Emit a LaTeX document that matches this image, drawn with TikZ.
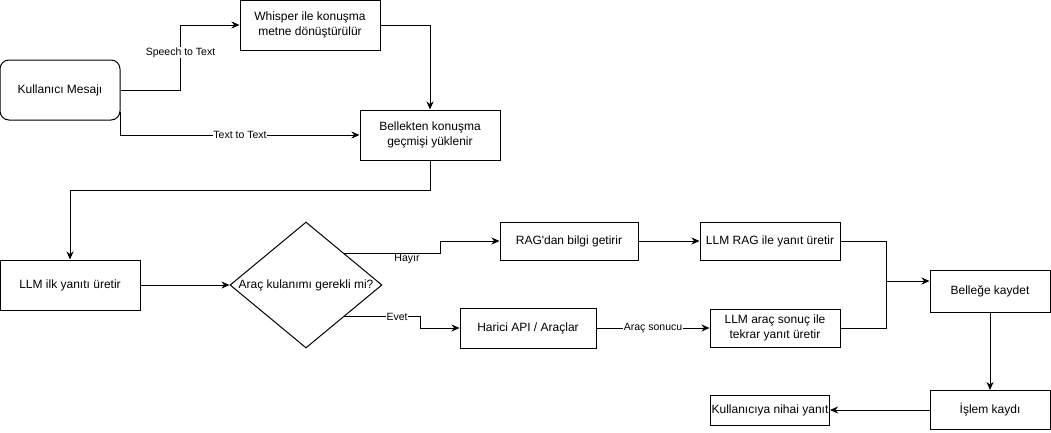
\documentclass[tikz,border=0pt]{standalone}
\usepackage{fontspec}
\setmainfont{Liberation Sans}
\usetikzlibrary{arrows.meta,shapes.geometric}

\tikzset{
  kutu/.style={draw=black, line width=1pt, inner sep=0pt, align=center, font=\fontsize{12}{14.5}\selectfont},
  karo/.style={draw=black, line width=1pt, diamond, inner sep=0pt, minimum width=152pt, minimum height=126pt, font=\fontsize{12}{14.5}\selectfont},
  ok/.style={line width=1pt, -{Stealth[length=8pt,width=7pt,inset=2.5pt]}},
  hat/.style={line width=1pt},
  etiket/.style={fill=white, inner sep=0.5pt, font=\fontsize{10.5}{12}\selectfont}
}

\begin{document}
\begin{tikzpicture}[x=1pt,y=-1pt]
\useasboundingbox (0,0) rectangle (1051,432);

\node[kutu, rounded corners=9pt, minimum width=120pt, minimum height=60pt] (user) at (60,90) {Kullanıcı Mesajı};
\node[kutu, minimum width=140pt, minimum height=50pt] (whisper) at (310,25) {Whisper ile konuşma\\metne dönüştürülür};
\node[kutu, minimum width=140pt, minimum height=50pt] (bellek) at (430,135) {Bellekten konuşma\\geçmişi yüklenir};
\node[kutu, minimum width=140pt, minimum height=50pt] (ilk) at (70,285) {LLM ilk yanıtı üretir};
\node[karo] (karar) at (306,285) {\makebox[0pt]{Araç kulanımı gerekli mi?}};
\node[kutu, minimum width=138pt, minimum height=38pt] (rag) at (569,241) {RAG\textquotesingle dan bilgi getirir};
\node[kutu, minimum width=140pt, minimum height=38pt] (llmrag) at (770,241) {LLM RAG ile yanıt üretir};
\node[kutu, minimum width=136pt, minimum height=40pt] (harici) at (528,328) {Harici API / Araçlar};
\node[kutu, minimum width=130pt, minimum height=38pt] (aracllm) at (775,328) {LLM araç sonuç ile\\tekrar yanıt üretir};
\node[kutu, minimum width=120pt, minimum height=42pt] (kaydet) at (990,291) {Belleğe kaydet};
\node[kutu, minimum width=120pt, minimum height=39pt] (islem) at (990,410) {İşlem kaydı};
\node[kutu, minimum width=119pt, minimum height=30pt] (nihai) at (770,410) {Kullanıcıya nihai yanıt};
\coordinate (birles) at (886,281);

\draw[ok] (user.east) -- ++(60,0) |- node[etiket, pos=0.29] {Speech to Text} (whisper.west);
\draw[ok] ([yshift=-22pt]user.east) |- node[etiket, pos=0.75] {Text to Text} (bellek.west);
\draw[ok] (whisper.east) -| (bellek.north);
\draw[ok] (bellek.south) -- ++(0,30) -| (ilk.north);
\draw[ok] (ilk.east) -- (karar.west);
\draw[ok] (karar.north east) -- ++(96,0) |- (rag.west);
\node[etiket] (hayir) at (407,259) {Hayır};
\draw[ok] (karar.south east) -- ++(76,0) |- (harici.west);
\node[etiket] (evet) at (397,316.5) {Evet};
\draw[ok] (rag.east) -- (llmrag.west);
\draw[ok] (harici.east) -- node[etiket] {Araç sonucu} (aracllm.west);
\draw[hat] (llmrag.east) -| (birles);
\draw[hat] (aracllm.east) -| (birles);
\draw[ok] (birles) -- (birles -| kaydet.west);
\draw[ok] (kaydet.south) -- (islem.north);
\draw[ok] (islem.west) -- (nihai.east);
\end{tikzpicture}
\end{document}
